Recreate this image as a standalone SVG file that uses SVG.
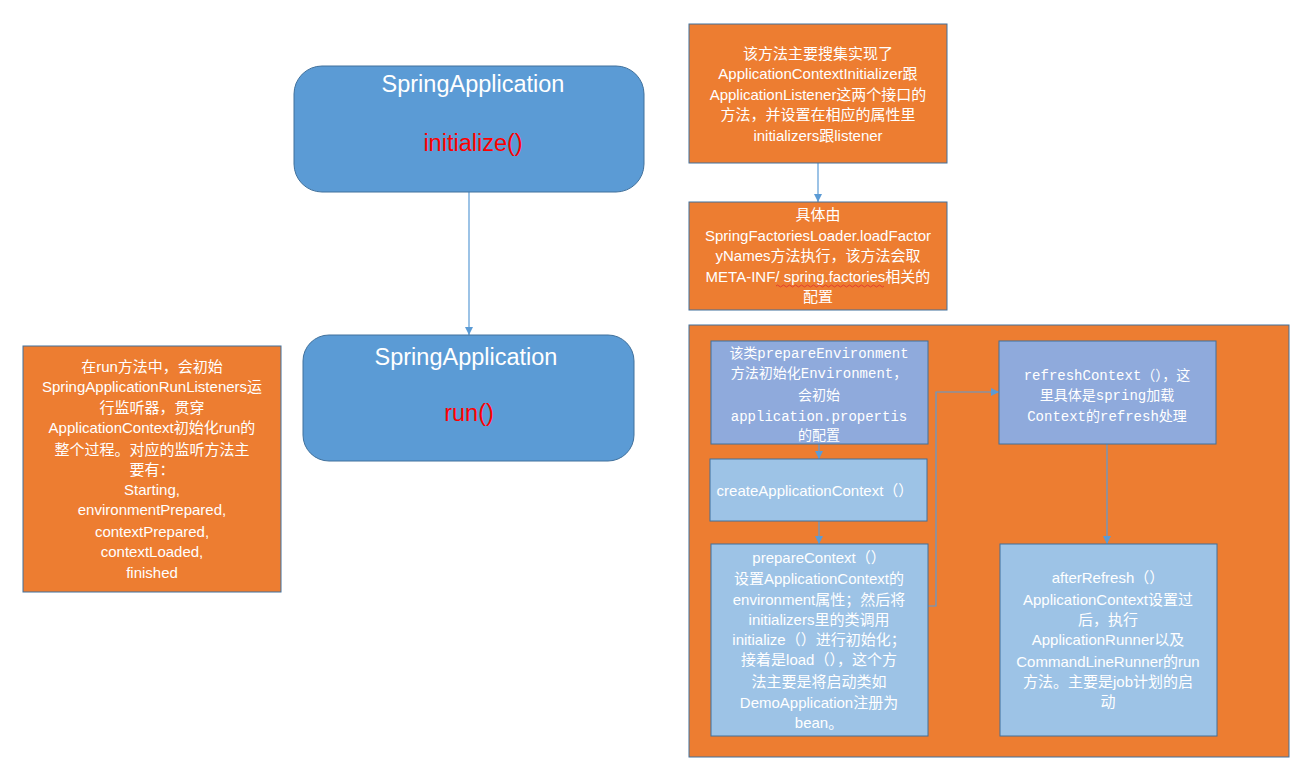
<svg xmlns="http://www.w3.org/2000/svg" width="1311" height="768" viewBox="0 0 1311 768">
<defs>
<style>
.rbox{fill:#5B9BD5;stroke:#41719C;stroke-width:1}
.obox{fill:#ED7D31;stroke:#41719C;stroke-width:1}
.b1{fill:#8FAADC;stroke:#41719C;stroke-width:1}
.b2{fill:#9DC3E6;stroke:#41719C;stroke-width:1}
.t{font-family:"Liberation Sans","Noto Sans CJK SC",sans-serif;font-size:15px;fill:#fff;text-anchor:middle}
.m{font-family:"Liberation Mono","Noto Sans CJK SC",monospace;font-size:14px;fill:#fff;text-anchor:middle}
.big{font-family:"Liberation Sans","Noto Sans CJK SC",sans-serif;font-size:23.5px;fill:#fff;text-anchor:middle}
.red{fill:#FF0000}
.c{fill:none;stroke:#5B9BD5;stroke-width:1.2}
</style>
<marker id="ah" viewBox="0 0 10 10" refX="10" refY="5" markerWidth="8" markerHeight="8" markerUnits="userSpaceOnUse" orient="auto">
<path d="M0,0 L10,5 L0,10 z" fill="#5B9BD5"/>
</marker>
</defs>
<rect width="1311" height="768" fill="#fff"/>

<g id="container">
<rect class="obox" x="689" y="325" width="600" height="432"/>
</g>

<g id="connectors">
<path class="c" d="M469,192 V335" marker-end="url(#ah)"/>
<path class="c" d="M818,163 V202" marker-end="url(#ah)"/>
<path class="c" d="M819,444 V459" marker-end="url(#ah)"/>
<path class="c" d="M819,521 V544" marker-end="url(#ah)"/>
<path class="c" d="M928,606 H936 V392 H999" marker-end="url(#ah)"/>
<path class="c" d="M1107,444 V544" marker-end="url(#ah)"/>
</g>

<g id="init">
<rect class="rbox" x="294" y="66" width="350" height="126" rx="28"/>
<text class="big" x="473" y="92">SpringApplication</text>
<text class="big red" x="473" y="151">initialize()</text>
</g>

<g id="run">
<rect class="rbox" x="303" y="335" width="331" height="126" rx="26"/>
<text class="big" x="466" y="365">SpringApplication</text>
<text class="big red" x="469" y="421">run()</text>
</g>

<g id="collect">
<rect class="obox" x="689" y="24" width="258" height="139"/>
<text class="t" x="818" y="59">该方法主要搜集实现了</text>
<text class="t" x="818" y="79">ApplicationContextInitializer跟</text>
<text class="t" x="818" y="100">ApplicationListener这两个接口的</text>
<text class="t" x="818" y="120">方法，并设置在相应的属性里</text>
<text class="t" x="818" y="141">initializers跟listener</text>
</g>

<g id="loader">
<rect class="obox" x="689" y="202" width="258" height="108"/>
<text class="t" x="818" y="220">具体由</text>
<text class="t" x="818" y="241">SpringFactoriesLoader.loadFactor</text>
<text class="t" x="818" y="261">yNames方法执行，该方法会取</text>
<text class="t" x="818" y="282">META-INF/ spring.factories相关的</text>
<text class="t" x="818" y="302">配置</text>
<path d="M776,286 q1.5,-2 3,0 t3,0 t3,0 t3,0 t3,0 t3,0 t3,0 t3,0 t3,0 t3,0 t3,0 t3,0 t3,0 t3,0 t3,0 t3,0 t3,0 t3,0 t3,0 t3,0 t3,0 t3,0 t3,0 t3,0 t3,0 t3,0 t3,0 t3,0 t3,0 t3,0 t3,0 t3,0 t3,0 t3,0 t3,0 t3,0" fill="none" stroke="#E03030" stroke-width="0.8"/>
</g>

<g id="listeners">
<rect class="obox" x="23" y="346" width="258" height="246"/>
<text class="t" x="152" y="372">在run方法中，会初始</text>
<text class="t" x="152" y="392">SpringApplicationRunListeners运</text>
<text class="t" x="152" y="413">行监听器，贯穿</text>
<text class="t" x="152" y="433">ApplicationContext初始化run的</text>
<text class="t" x="152" y="455">整个过程。对应的监听方法主</text>
<text class="t" x="152" y="475">要有：</text>
<text class="t" x="152" y="495">Starting,</text>
<text class="t" x="152" y="515">environmentPrepared,</text>
<text class="t" x="152" y="537">contextPrepared,</text>
<text class="t" x="152" y="557">contextLoaded,</text>
<text class="t" x="152" y="578">finished</text>
</g>

<g id="prepareEnv">
<rect class="b1" x="711" y="341" width="217" height="103"/>
<text class="m" x="819" y="358">该类prepareEnvironment</text>
<text class="m" x="819" y="378">方法初始化Environment，</text>
<text class="m" x="819" y="400">会初始</text>
<text class="m" x="819" y="421">application.propertis</text>
<text class="m" x="819" y="440">的配置</text>
</g>

<g id="createCtx">
<rect class="b2" x="710" y="459" width="217" height="62"/>
<text class="t" x="815" y="496">createApplicationContext（）</text>
</g>

<g id="prepareCtx">
<rect class="b2" x="711" y="544" width="217" height="192"/>
<text class="t" x="819" y="563">prepareContext（）</text>
<text class="t" x="819" y="584">设置ApplicationContext的</text>
<text class="t" x="819" y="605">environment属性；然后将</text>
<text class="t" x="819" y="625">initializers里的类调用</text>
<text class="t" x="819" y="645">initialize（）进行初始化；</text>
<text class="t" x="819" y="665">接着是load（），这个方</text>
<text class="t" x="819" y="687">法主要是将启动类如</text>
<text class="t" x="819" y="708">DemoApplication注册为</text>
<text class="t" x="819" y="728">bean。</text>
</g>

<g id="refreshCtx">
<rect class="b1" x="999" y="341" width="217" height="103"/>
<text class="m" x="1107" y="380">refreshContext（），这</text>
<text class="m" x="1107" y="400">里具体是spring加载</text>
<text class="m" x="1107" y="421">Context的refresh处理</text>
</g>

<g id="afterRefresh">
<rect class="b2" x="1000" y="544" width="217" height="192"/>
<text class="t" x="1108" y="583">afterRefresh（）</text>
<text class="t" x="1108" y="605">ApplicationContext设置过</text>
<text class="t" x="1108" y="625">后，执行</text>
<text class="t" x="1108" y="645">ApplicationRunner以及</text>
<text class="t" x="1108" y="667">CommandLineRunner的run</text>
<text class="t" x="1108" y="687">方法。主要是job计划的启</text>
<text class="t" x="1108" y="707">动</text>
</g>
</svg>
